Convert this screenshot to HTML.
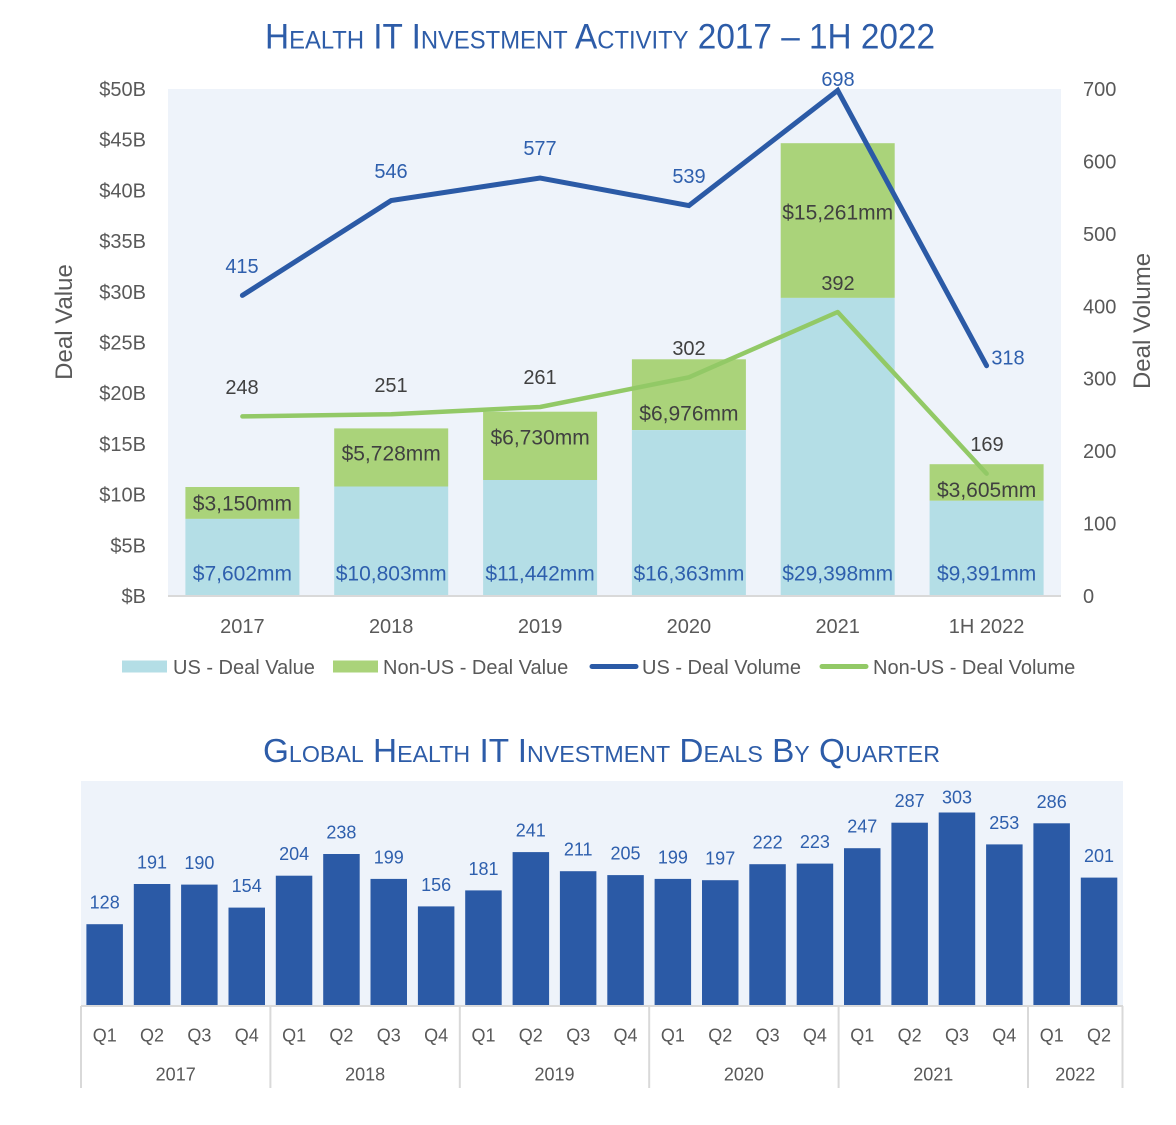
<!DOCTYPE html>
<html>
<head>
<meta charset="utf-8">
<style>
  html,body{margin:0;padding:0;background:#fff;}
  svg{display:block;}
  text{font-family:"Liberation Sans",Arial,sans-serif;}
  .ax{fill:#595959;font-size:20px;}
  .t{fill:#2d5ca8;font-variant:small-caps;}
</style>
</head>
<body>
<svg width="1176" height="1125" viewBox="0 0 1176 1125" xmlns="http://www.w3.org/2000/svg">
  <!-- Title 1 -->
  <text class="t" x="600" y="48.5" font-size="35" text-anchor="middle" textLength="670" lengthAdjust="spacingAndGlyphs">Health IT Investment Activity 2017 – 1H 2022</text>

  <!-- Top plot area -->
  <rect x="168" y="89" width="893" height="507" fill="#eef3fa"/>

  <!-- Bars: US (light blue) and Non-US (green) -->
  <g>
    <rect x="185.4" y="487.0" width="114" height="31.9" fill="#aad37a"/>
    <rect x="185.4" y="518.9" width="114" height="77.1" fill="#b4dee6"/>
    <rect x="334.2" y="428.4" width="114" height="58.1" fill="#aad37a"/>
    <rect x="334.2" y="486.5" width="114" height="109.5" fill="#b4dee6"/>
    <rect x="483.1" y="411.7" width="114" height="68.3" fill="#aad37a"/>
    <rect x="483.1" y="480.0" width="114" height="116.0" fill="#b4dee6"/>
    <rect x="631.9" y="359.3" width="114" height="70.8" fill="#aad37a"/>
    <rect x="631.9" y="430.1" width="114" height="165.9" fill="#b4dee6"/>
    <rect x="780.7" y="143.2" width="114" height="154.7" fill="#aad37a"/>
    <rect x="780.7" y="297.9" width="114" height="298.1" fill="#b4dee6"/>
    <rect x="929.6" y="464.2" width="114" height="36.6" fill="#aad37a"/>
    <rect x="929.6" y="500.8" width="114" height="95.2" fill="#b4dee6"/>
  </g>

  <!-- axis line -->
  <line x1="168" y1="596" x2="1061" y2="596" stroke="#d9d9d9" stroke-width="2"/>

  <!-- Lines -->
  <polyline points="242.4,416.4 391.2,414.2 540.1,407.0 688.9,377.3 837.7,312.0 986.6,473.6" fill="none" stroke="#92c966" stroke-width="4.5" stroke-linejoin="round" stroke-linecap="round"/>
  <polyline points="242.4,295.4 391.2,200.5 540.1,178.0 688.9,205.6 837.7,90.4 986.6,365.7" fill="none" stroke="#2b5aa6" stroke-width="5" stroke-linejoin="miter" stroke-linecap="round"/>

  <!-- Bar labels -->
  <g font-size="21" text-anchor="middle" fill="#2e5fad">
    <text x="242.4" y="580.5">$7,602mm</text>
    <text x="391.2" y="580.5">$10,803mm</text>
    <text x="540.1" y="580.5">$11,442mm</text>
    <text x="688.9" y="580.5">$16,363mm</text>
    <text x="837.7" y="580.5">$29,398mm</text>
    <text x="986.6" y="580.5">$9,391mm</text>
  </g>
  <g font-size="21" text-anchor="middle" fill="#404040">
    <text x="242.4" y="510.5">$3,150mm</text>
    <text x="391.2" y="460.5">$5,728mm</text>
    <text x="540.1" y="444.5">$6,730mm</text>
    <text x="688.9" y="420.5">$6,976mm</text>
    <text x="837.7" y="219.5">$15,261mm</text>
    <text x="986.6" y="497">$3,605mm</text>
  </g>

  <!-- Line labels -->
  <g font-size="20" text-anchor="middle" fill="#2e5fad">
    <text x="242" y="273">415</text>
    <text x="391" y="178">546</text>
    <text x="540" y="155">577</text>
    <text x="689" y="183">539</text>
    <text x="838" y="86">698</text>
    <text x="1008" y="364.5">318</text>
  </g>
  <g font-size="20" text-anchor="middle" fill="#404040">
    <text x="242" y="394">248</text>
    <text x="391" y="392">251</text>
    <text x="540" y="384">261</text>
    <text x="689" y="355">302</text>
    <text x="838" y="290">392</text>
    <text x="987" y="451">169</text>
  </g>

  <!-- Left axis labels -->
  <g class="ax" text-anchor="end">
    <text x="146" y="96">$50B</text>
    <text x="146" y="146.7">$45B</text>
    <text x="146" y="197.4">$40B</text>
    <text x="146" y="248.1">$35B</text>
    <text x="146" y="298.8">$30B</text>
    <text x="146" y="349.5">$25B</text>
    <text x="146" y="400.2">$20B</text>
    <text x="146" y="450.9">$15B</text>
    <text x="146" y="501.6">$10B</text>
    <text x="146" y="552.3">$5B</text>
    <text x="146" y="603">$B</text>
  </g>
  <!-- Right axis labels -->
  <g class="ax" text-anchor="start">
    <text x="1083" y="96">700</text>
    <text x="1083" y="168.4">600</text>
    <text x="1083" y="240.9">500</text>
    <text x="1083" y="313.3">400</text>
    <text x="1083" y="385.7">300</text>
    <text x="1083" y="458.1">200</text>
    <text x="1083" y="530.6">100</text>
    <text x="1083" y="603">0</text>
  </g>

  <!-- Axis titles -->
  <text x="0" y="0" font-size="24" fill="#595959" text-anchor="middle" transform="translate(72,322) rotate(-90)">Deal Value</text>
  <text x="0" y="0" font-size="24" fill="#595959" text-anchor="middle" transform="translate(1150,321) rotate(-90)">Deal Volume</text>

  <!-- Category labels -->
  <g class="ax" text-anchor="middle">
    <text x="242.4" y="633">2017</text>
    <text x="391.2" y="633">2018</text>
    <text x="540.1" y="633">2019</text>
    <text x="688.9" y="633">2020</text>
    <text x="837.7" y="633">2021</text>
    <text x="986.6" y="633">1H 2022</text>
  </g>

  <!-- Legend -->
  <rect x="122" y="660.5" width="45" height="12" fill="#b4dee6"/>
  <text class="ax" x="173" y="674">US - Deal Value</text>
  <rect x="333" y="660.5" width="45" height="12" fill="#aad37a"/>
  <text class="ax" x="383" y="674">Non-US - Deal Value</text>
  <line x1="592" y1="666.5" x2="636" y2="666.5" stroke="#2b5aa6" stroke-width="5" stroke-linecap="round"/>
  <text class="ax" x="642" y="674">US - Deal Volume</text>
  <line x1="822" y1="666.5" x2="866" y2="666.5" stroke="#92c966" stroke-width="5" stroke-linecap="round"/>
  <text class="ax" x="873" y="674">Non-US - Deal Volume</text>

  <!-- Title 2 -->
  <text class="t" x="601.5" y="762" font-size="33" text-anchor="middle" textLength="677" lengthAdjust="spacingAndGlyphs">Global Health IT Investment Deals By Quarter</text>

  <!-- Bottom panel -->
  <rect x="81" y="781" width="1042" height="225" fill="#eef3fa"/>

  <g fill="#2b5aa6">
    <rect x="86.4" y="924.2" width="36.5" height="81.8"/>
    <rect x="133.8" y="884.0" width="36.5" height="122.0"/>
    <rect x="181.1" y="884.6" width="36.5" height="121.4"/>
    <rect x="228.5" y="907.6" width="36.5" height="98.4"/>
    <rect x="275.8" y="875.7" width="36.5" height="130.3"/>
    <rect x="323.2" y="854.0" width="36.5" height="152.0"/>
    <rect x="370.5" y="878.9" width="36.5" height="127.1"/>
    <rect x="417.9" y="906.4" width="36.5" height="99.6"/>
    <rect x="465.2" y="890.4" width="36.5" height="115.6"/>
    <rect x="512.6" y="852.1" width="36.5" height="153.9"/>
    <rect x="559.9" y="871.2" width="36.5" height="134.8"/>
    <rect x="607.3" y="875.1" width="36.5" height="130.9"/>
    <rect x="654.6" y="878.9" width="36.5" height="127.1"/>
    <rect x="702.0" y="880.2" width="36.5" height="125.8"/>
    <rect x="749.3" y="864.2" width="36.5" height="141.8"/>
    <rect x="796.7" y="863.6" width="36.5" height="142.4"/>
    <rect x="844.0" y="848.2" width="36.5" height="157.8"/>
    <rect x="891.4" y="822.7" width="36.5" height="183.3"/>
    <rect x="938.7" y="812.5" width="36.5" height="193.5"/>
    <rect x="986.1" y="844.4" width="36.5" height="161.6"/>
    <rect x="1033.4" y="823.3" width="36.5" height="182.7"/>
    <rect x="1080.8" y="877.6" width="36.5" height="128.4"/>
  </g>

  <g font-size="18" text-anchor="middle" fill="#2e5fad">
    <text x="104.7" y="908.7">128</text>
    <text x="152.0" y="868.5">191</text>
    <text x="199.4" y="869.1">190</text>
    <text x="246.7" y="892.1">154</text>
    <text x="294.1" y="860.2">204</text>
    <text x="341.4" y="838.5">238</text>
    <text x="388.8" y="863.4">199</text>
    <text x="436.1" y="890.9">156</text>
    <text x="483.5" y="874.9">181</text>
    <text x="530.8" y="836.6">241</text>
    <text x="578.2" y="855.7">211</text>
    <text x="625.5" y="859.6">205</text>
    <text x="672.9" y="863.4">199</text>
    <text x="720.2" y="864.7">197</text>
    <text x="767.6" y="848.7">222</text>
    <text x="814.9" y="848.1">223</text>
    <text x="862.3" y="832.7">247</text>
    <text x="909.6" y="807.2">287</text>
    <text x="957.0" y="803.5">303</text>
    <text x="1004.3" y="828.9">253</text>
    <text x="1051.7" y="807.8">286</text>
    <text x="1099.0" y="862.1">201</text>
  </g>

  <!-- bottom axis -->
  <line x1="81" y1="1006" x2="1123" y2="1006" stroke="#d9d9d9" stroke-width="2"/>
  <g stroke="#d9d9d9" stroke-width="2">
    <line x1="81" y1="1006" x2="81" y2="1088"/>
    <line x1="270.4" y1="1006" x2="270.4" y2="1088"/>
    <line x1="459.8" y1="1006" x2="459.8" y2="1088"/>
    <line x1="649.2" y1="1006" x2="649.2" y2="1088"/>
    <line x1="838.6" y1="1006" x2="838.6" y2="1088"/>
    <line x1="1028" y1="1006" x2="1028" y2="1088"/>
    <line x1="1122.5" y1="1006" x2="1122.5" y2="1088"/>
  </g>

  <g fill="#595959" font-size="18" text-anchor="middle">
    <text x="104.7" y="1041.5">Q1</text>
    <text x="152.0" y="1041.5">Q2</text>
    <text x="199.4" y="1041.5">Q3</text>
    <text x="246.7" y="1041.5">Q4</text>
    <text x="294.1" y="1041.5">Q1</text>
    <text x="341.4" y="1041.5">Q2</text>
    <text x="388.8" y="1041.5">Q3</text>
    <text x="436.1" y="1041.5">Q4</text>
    <text x="483.5" y="1041.5">Q1</text>
    <text x="530.8" y="1041.5">Q2</text>
    <text x="578.2" y="1041.5">Q3</text>
    <text x="625.5" y="1041.5">Q4</text>
    <text x="672.9" y="1041.5">Q1</text>
    <text x="720.2" y="1041.5">Q2</text>
    <text x="767.6" y="1041.5">Q3</text>
    <text x="814.9" y="1041.5">Q4</text>
    <text x="862.3" y="1041.5">Q1</text>
    <text x="909.6" y="1041.5">Q2</text>
    <text x="957.0" y="1041.5">Q3</text>
    <text x="1004.3" y="1041.5">Q4</text>
    <text x="1051.7" y="1041.5">Q1</text>
    <text x="1099.0" y="1041.5">Q2</text>

    <text x="175.7" y="1080.5">2017</text>
    <text x="365.1" y="1080.5">2018</text>
    <text x="554.5" y="1080.5">2019</text>
    <text x="743.9" y="1080.5">2020</text>
    <text x="933.3" y="1080.5">2021</text>
    <text x="1075.3" y="1080.5">2022</text>
  </g>
</svg>
</body>
</html>
